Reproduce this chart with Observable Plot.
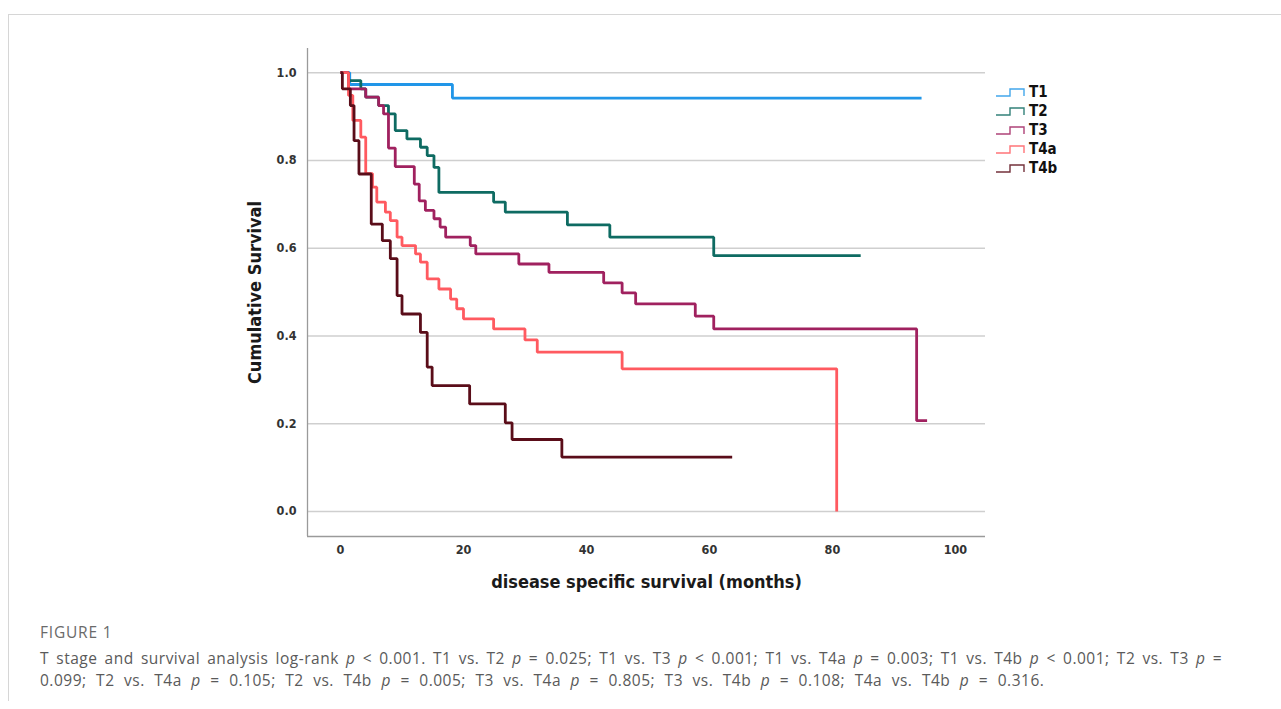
<!DOCTYPE html>
<html>
<head>
<meta charset="utf-8">
<script src="https://cdn.jsdelivr.net/npm/d3@7"></script>
<script src="https://cdn.jsdelivr.net/npm/@observablehq/plot@0.6"></script>
<style>
  html, body { margin: 0; padding: 0; background: #fff; }
  body { width: 1281px; height: 709px; position: relative; overflow: hidden; font-family: "Open Sans", sans-serif; }
  #card { position: absolute; left: 8px; top: 14px; right: -2px; bottom: 8px; border-top: 1px solid #d6d6d6; border-left: 1px solid #d6d6d6; }
  #chart { position: absolute; left: 0; top: 0; }
  #chart text { font-family: "DejaVu Sans Condensed", "DejaVu Sans", sans-serif; font-weight: 700; }
  #legend { position: absolute; left: 995px; top: 82px; font-family: "DejaVu Sans Condensed", "DejaVu Sans", sans-serif; font-weight: 700; font-size: 15px; color: #111; }
  #legend .row { height: 19px; display: flex; align-items: center; }
  #legend svg { margin-right: 3px; }
  #fig { position: absolute; left: 40px; top: 621px; font-size: 15.5px; color: #6a6a6a; letter-spacing: 0.8px; }
  #cap { position: absolute; left: 40px; top: 647px; width: 1182px; font-size: 15.5px; line-height: 22px; color: #5a5a5a; letter-spacing: 0.5px; }
  #cap .l1 { display: block; text-align: justify; text-align-last: justify; }
  #cap .l2 { display: block; word-spacing: 5px; }
</style>
</head>
<body>
<div id="card"></div>
<div id="chart"></div>
<div id="legend"></div>
<div id="fig">FIGURE 1</div>
<div id="cap"><span class="l1">T stage and survival analysis log-rank <i>p</i> &lt; 0.001. T1 vs. T2 <i>p</i> = 0.025; T1 vs. T3 <i>p</i> &lt; 0.001; T1 vs. T4a <i>p</i> = 0.003; T1 vs. T4b <i>p</i> &lt; 0.001; T2 vs. T3 <i>p</i> =</span><span class="l2">0.099; T2 vs. T4a <i>p</i> = 0.105; T2 vs. T4b <i>p</i> = 0.005; T3 vs. T4a <i>p</i> = 0.805; T3 vs. T4b <i>p</i> = 0.108; T4a vs. T4b <i>p</i> = 0.316.</span></div>
<script>
// ---- data ----
const groups = ["T1", "T2", "T3", "T4a", "T4b"];
const groupColors = ["#2196e8", "#0e6b62", "#a0215f", "#ff5a60", "#5a0d19"];

const t1Months   = [0, 1.5, 18.2, 94.5];
const t1Survival = [1, 0.973, 0.942, 0.942];

const t2Months   = [0, 1.3, 3.3, 4.1, 6.2, 7.8, 8.9, 10.8, 13.0, 14.1, 15.2, 16.0, 24.9, 26.8, 36.9, 43.8, 60.7, 84.6];
const t2Survival = [1, 0.982, 0.963, 0.944, 0.925, 0.906, 0.868, 0.849, 0.830, 0.811, 0.784, 0.727, 0.705, 0.682, 0.653, 0.625, 0.583, 0.583];

const t3Months   = [0, 1.3, 4.1, 6.2, 7.0, 7.8, 8.9, 12.0, 12.8, 13.8, 15.2, 16.2, 17.1, 21.1, 22.0, 29.0, 33.9, 42.8, 45.8, 48.0, 57.7, 60.7, 93.7, 95.4];
const t3Survival = [1, 0.963, 0.944, 0.925, 0.906, 0.828, 0.786, 0.746, 0.708, 0.686, 0.667, 0.648, 0.625, 0.606, 0.587, 0.564, 0.545, 0.521, 0.498, 0.473, 0.445, 0.416, 0.207, 0.207];

const t4aMonths   = [0, 1.3, 2.0, 3.3, 4.1, 5.2, 5.9, 7.3, 8.1, 9.2, 10.0, 12.2, 13.0, 14.1, 16.0, 17.9, 18.9, 20.0, 24.9, 30.0, 32.0, 45.8, 80.7];
const t4aSurvival = [1, 0.948, 0.891, 0.853, 0.770, 0.739, 0.705, 0.682, 0.663, 0.625, 0.606, 0.587, 0.568, 0.530, 0.507, 0.484, 0.462, 0.439, 0.416, 0.391, 0.363, 0.325, 0];

const t4bMonths   = [0, 0.3, 1.6, 2.2, 3.0, 5.0, 6.8, 8.1, 9.2, 10.0, 13.0, 14.1, 14.9, 21.0, 26.8, 27.9, 36.0, 63.7];
const t4bSurvival = [1, 0.963, 0.925, 0.845, 0.769, 0.655, 0.617, 0.576, 0.492, 0.450, 0.408, 0.329, 0.287, 0.245, 0.202, 0.164, 0.124, 0.124];

const xTicks = [0, 20, 40, 60, 80, 100];
const yTicks = [0, 0.2, 0.4, 0.6, 0.8, 1.0];
const xDomain = [-5.37, 104.9];
const yDomain = [-0.057, 1.055];
const xTitle = "disease specific survival (months)";
const yTitle = "Cumulative Survival";

// ---- build table ----
const seriesMonths = [t1Months, t2Months, t3Months, t4aMonths, t4bMonths];
const seriesSurvival = [t1Survival, t2Survival, t3Survival, t4aSurvival, t4bSurvival];
const rows = [];
groups.forEach((g, i) => {
  seriesMonths[i].forEach((m, j) => rows.push({group: g, month: m, survival: seriesSurvival[i][j]}));
});

const H = 600;
const chart = Plot.plot({
  width: 1281,
  height: H,
  marginLeft: 307,
  marginRight: 296,
  marginTop: 48,
  marginBottom: H - 536,
  style: {background: "transparent", overflow: "visible"},
  x: {domain: xDomain},
  y: {domain: yDomain},
  color: {domain: groups, range: groupColors},
  marks: [
    Plot.gridY(yTicks, {stroke: "#cfcfcf", strokeOpacity: 1, strokeWidth: 1.5}),
    Plot.ruleX([xDomain[0]], {stroke: "#9a9a9a", strokeWidth: 1.3}),
    Plot.ruleY([yDomain[0]], {stroke: "#9a9a9a", strokeWidth: 1.3}),
    Plot.axisY(yTicks, {tickSize: 0, tickPadding: 11, tickFormat: d3.format(".1f"), fontSize: 12.5, fill: "#333", label: null}),
    Plot.axisX(xTicks, {tickSize: 0, tickPadding: 9, fontSize: 12.5, fill: "#333", label: null}),
    Plot.line(rows, {x: "month", y: "survival", z: "group", stroke: "group", curve: "step-after", strokeWidth: 2.8, strokeLinejoin: "miter", strokeLinecap: "butt"}),
    Plot.text([yTitle], {frameAnchor: "left", dx: -52, rotate: -90, textAnchor: "middle", lineAnchor: "middle", fontSize: 18, fill: "#1a1a1a"}),
    Plot.text([xTitle], {frameAnchor: "bottom", dy: 46, textAnchor: "middle", lineAnchor: "middle", fontSize: 18, fill: "#1a1a1a"})
  ]
});
document.getElementById("chart").appendChild(chart);

// ---- legend ----
const legend = document.getElementById("legend");
groups.forEach((g, i) => {
  const row = document.createElement("div");
  row.className = "row";
  row.innerHTML = `<svg width="31" height="12" viewBox="0 0 31 12"><path d="M1,10 H15 V3 H29 V10" fill="none" stroke="${groupColors[i]}" stroke-width="1.4" stroke-opacity="0.85"/></svg><span>${g}</span>`;
  legend.appendChild(row);
});
</script>
</body>
</html>
